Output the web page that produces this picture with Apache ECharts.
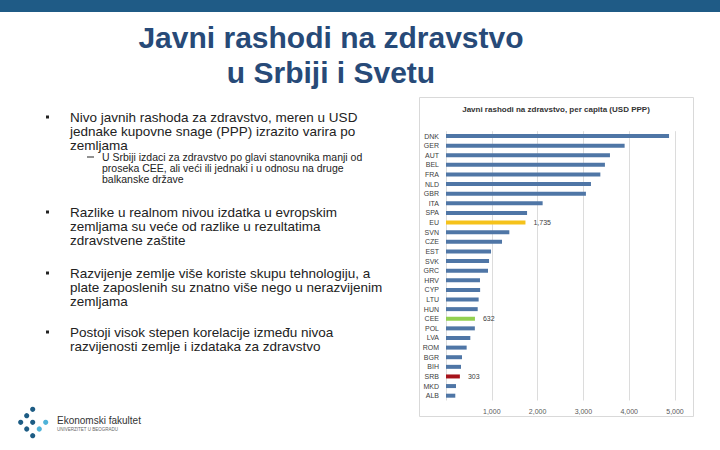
<!DOCTYPE html>
<html>
<head>
<meta charset="utf-8">
<script src="https://cdn.jsdelivr.net/npm/echarts@6/dist/echarts.min.js"></script>
<style>
html,body{margin:0;padding:0;background:#fff;}
#c{width:720px;height:450px;}
</style>
</head>
<body>
<div id="c"></div>
<script>
const categories = ['DNK','GER','AUT','BEL','FRA','NLD','GBR','ITA','SPA','EU','SVN','CZE','EST','SVK','GRC','HRV','CYP','LTU','HUN','CEE','POL','LVA','ROM','BGR','BIH','SRB','MKD','ALB'];
const values = [4870,3900,3580,3470,3370,3165,3055,2110,1770,1735,1383,1223,983,940,917,742,745,713,692,632,630,531,451,349,328,303,218,203];
const highlightColors = {EU:'#f5c21b', CEE:'#92d050', SRB:'#a6131b'};
const valueLabels = {EU:'1,735', CEE:'632', SRB:'303'};
const xTicks = [0,1000,2000,3000,4000,5000];
const chartTitle = 'Javni rashodi na zdravstvo, per capita (USD PPP)';
const slideTitle = ['Javni rashodi na zdravstvo','u Srbiji i Svetu'];
const bullets = [
  {lines:['Nivo javnih rashoda za zdravstvo, meren u USD','jednake kupovne snage (PPP) izrazito varira po','zemljama'], y:117},
  {lines:['Razlike u realnom nivou izdatka u evropskim','zemljama su veće od razlike u rezultatima','zdravstvene zaštite'], y:212},
  {lines:['Razvijenje zemlje više koriste skupu tehnologiju, a','plate zaposlenih su znatno više nego u nerazvijenim','zemljama'], y:273},
  {lines:['Postoji visok stepen korelacije između nivoa','razvijenosti zemlje i izdataka za zdravstvo'], y:332}
];
const subBullet = {lines:['U Srbiji izdaci za zdravstvo po glavi stanovnika manji od','proseka CEE, ali veći ili jednaki i u odnosu na druge','balkanske države'], y:157};

const chart = echarts.init(document.getElementById('c'), null, {renderer:'svg'});
const FF = 'Liberation Sans, Arial';
const graphics = [];
graphics.push({type:'rect', shape:{x:0,y:0,width:720,height:12}, style:{fill:'#1f5b86'}});
graphics.push({type:'text', style:{text:slideTitle.join('\n'), x:331, y:20, fontSize:30, lineHeight:35, fontWeight:'bold', fontFamily:FF, fill:'#274a78', textAlign:'center', textVerticalAlign:'top'}});
bullets.forEach(b => {
  graphics.push({type:'rect', shape:{x:46,y:b.y-1.5,width:3,height:3}, style:{fill:'#222'}});
  graphics.push({type:'text', style:{text:b.lines.join('\n'), x:70, y:b.y-7, fontSize:13.5, lineHeight:14, fontFamily:FF, fill:'#222', textVerticalAlign:'top'}});
});
graphics.push({type:'rect', shape:{x:87,y:subBullet.y-0.5,width:7,height:1}, style:{fill:'#222'}});
graphics.push({type:'text', style:{text:subBullet.lines.join('\n'), x:102, y:subBullet.y-5.5, fontSize:10.5, lineHeight:11, fontFamily:FF, fill:'#222', textVerticalAlign:'top'}});
graphics.push({type:'rect', shape:{x:419.5,y:97.5,width:274,height:319}, style:{fill:'none', stroke:'#d9d9d9', lineWidth:1}});
graphics.push({type:'text', style:{text:chartTitle, x:556, y:109, fontSize:8, fontWeight:'bold', fontFamily:FF, fill:'#333', textAlign:'center', textVerticalAlign:'middle'}});
const dark = [[32.7,409.3],[26.7,415.7],[20.7,422.3],[32.7,422.3],[26.7,429],[32.7,435.7]];
const light = [[45.7,422.3],[39.3,429]];
dark.forEach(p => graphics.push({type:'circle', shape:{cx:p[0],cy:p[1],r:2.6}, style:{fill:'#1d5c84'}}));
light.forEach(p => graphics.push({type:'circle', shape:{cx:p[0],cy:p[1],r:2.6}, style:{fill:'#4fb3d9'}}));
graphics.push({type:'text', style:{text:'Ekonomski fakultet', x:57, y:420, fontSize:10, fontFamily:FF, fill:'#333', textVerticalAlign:'middle'}});
graphics.push({type:'text', style:{text:'UNIVERZITET U BEOGRADU', x:57, y:429.5, fontSize:4.5, fontFamily:FF, fill:'#666', textVerticalAlign:'middle'}});

const barData = categories.map((c,i) => {
  const item = {value: values[i]};
  if (highlightColors[c]) {
    item.itemStyle = {color: highlightColors[c]};
    item.label = {show:true, formatter: valueLabels[c]};
  }
  return item;
});

chart.setOption({
  animation:false,
  backgroundColor:'#fff',
  grid:{left:446, top:131.2, width:229, height:269.3},
  xAxis:{type:'value', min:xTicks[0], max:xTicks[xTicks.length-1], interval:1000,
    axisLine:{show:false}, axisTick:{show:false},
    splitLine:{lineStyle:{color:'#dcdcdc', width:1}},
    axisLabel:{fontSize:7, color:'#595959', margin:7, showMinLabel:false, fontFamily:FF,
      formatter: v => v.toLocaleString('en-US')}},
  yAxis:{type:'category', data:categories, inverse:true,
    axisLine:{show:false}, axisTick:{show:false},
    axisLabel:{fontSize:7, color:'#404040', margin:7, fontFamily:FF}},
  series:[{type:'bar', data:barData, barWidth:4,
    itemStyle:{color:'#4f76a6'},
    label:{show:false, position:'right', distance:8, fontSize:7, color:'#404040', fontFamily:FF}}],
  graphic:graphics
});
</script>
</body>
</html>
